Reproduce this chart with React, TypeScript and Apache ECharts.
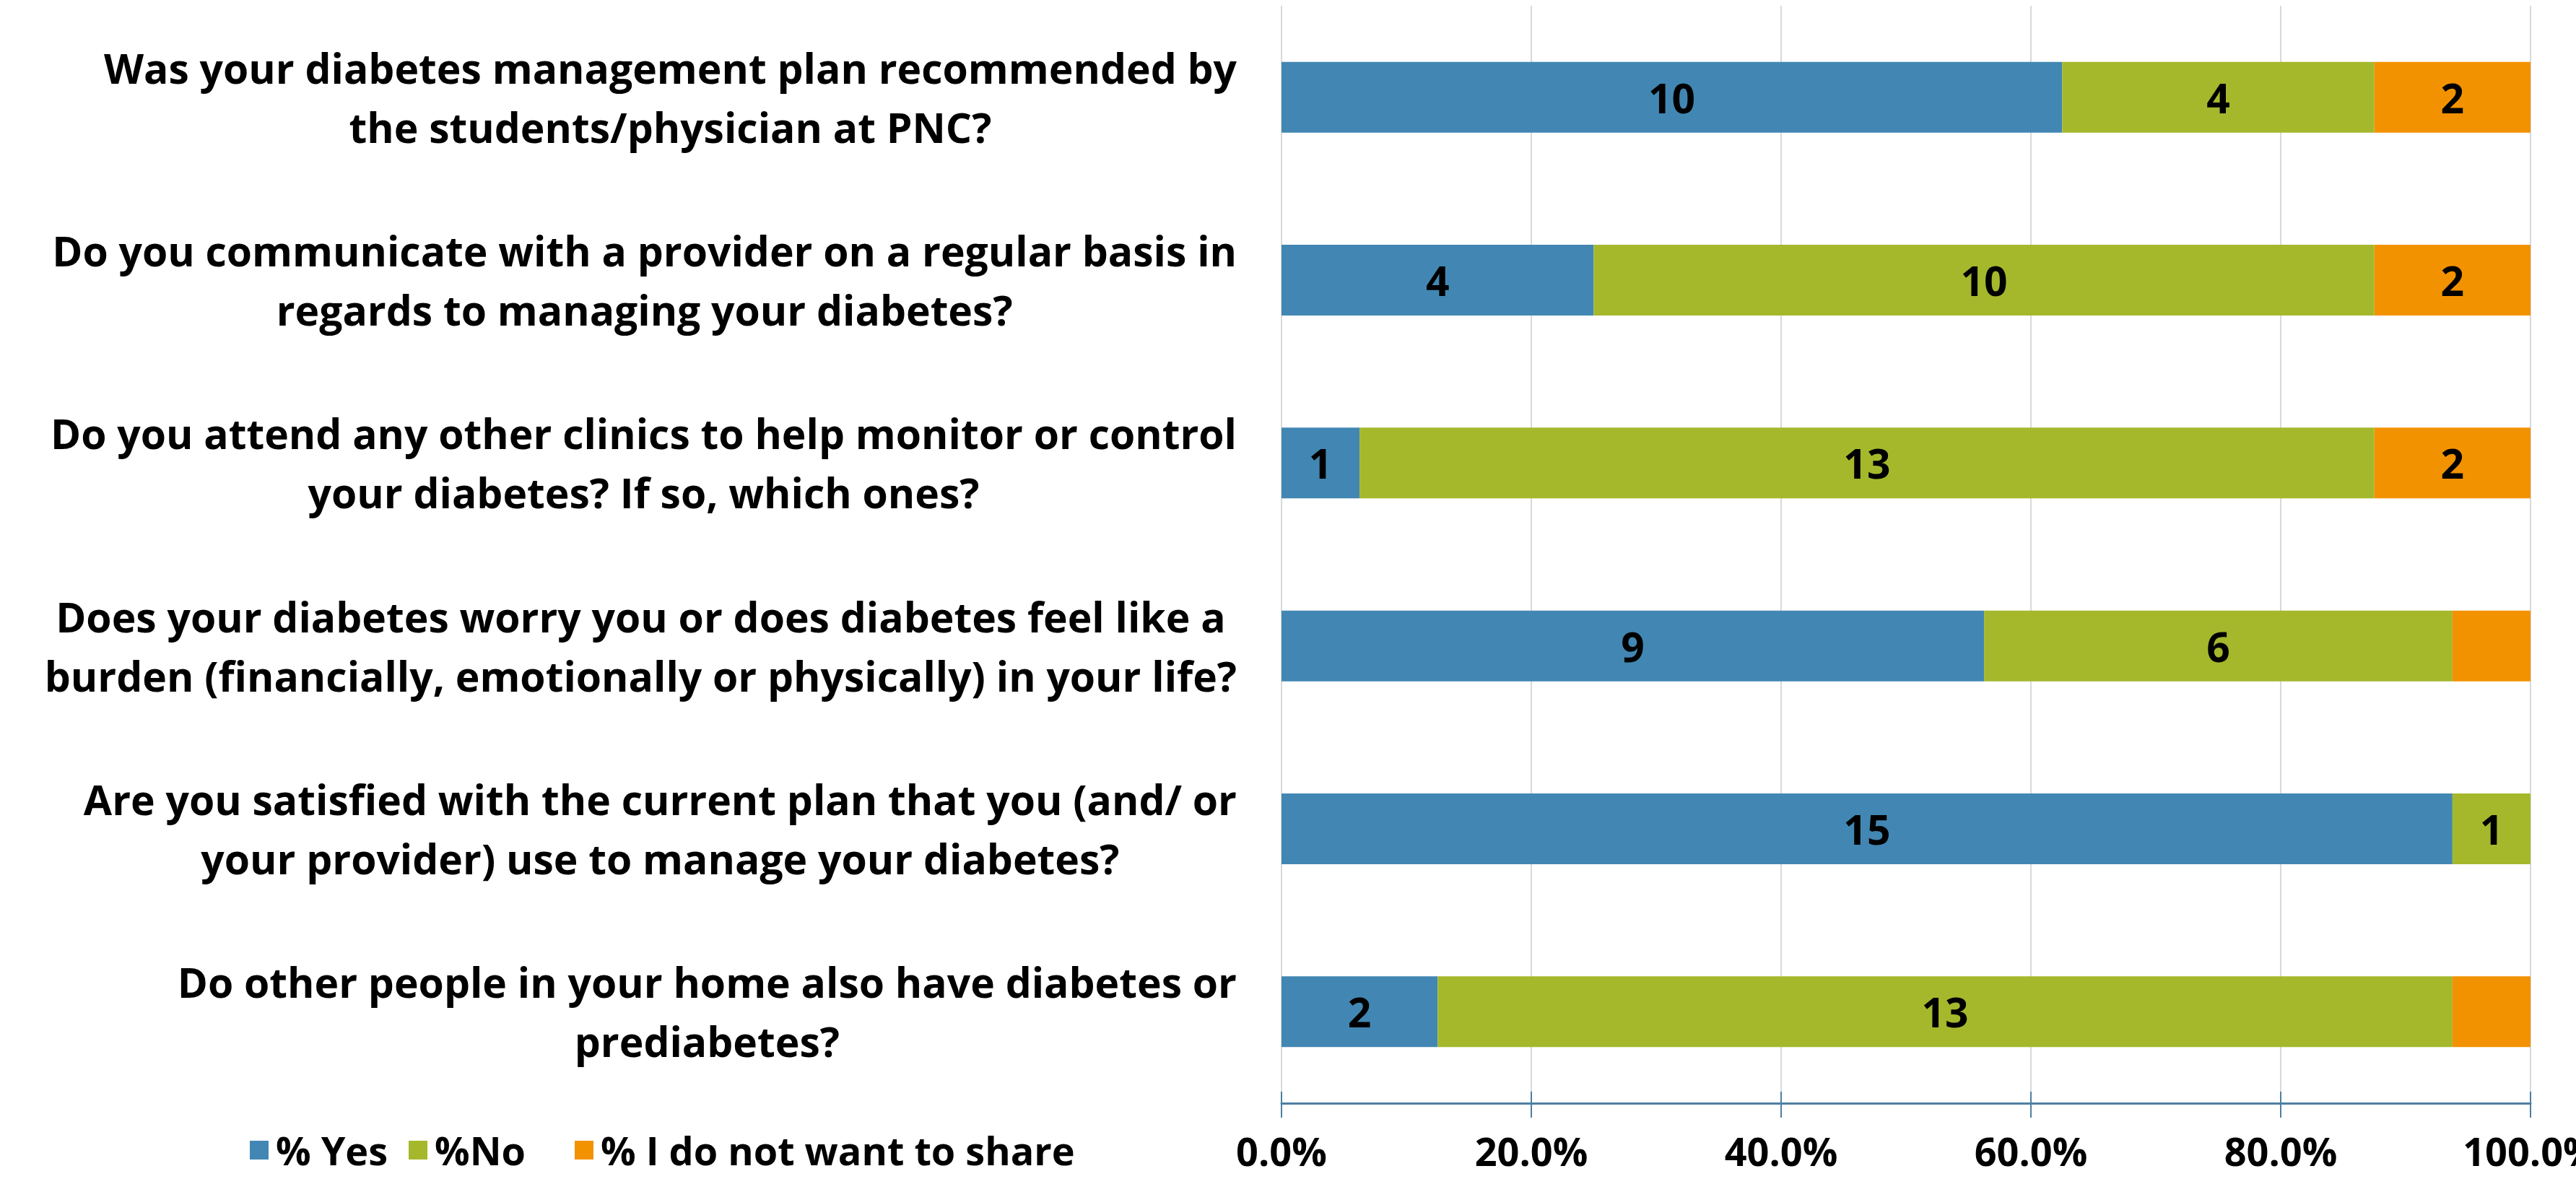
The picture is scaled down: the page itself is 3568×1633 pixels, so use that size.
import React, { useEffect, useRef } from "react";
import * as echarts from "echarts";

const questions = [
  "Was your diabetes management plan recommended by\nthe students/physician at PNC?",
  "Do you communicate with a provider on a regular basis in\nregards to managing your diabetes?",
  "Do you attend any other clinics to help monitor or control\nyour diabetes? If so, which ones?",
  "Does your diabetes worry you or does diabetes feel like a\nburden (financially, emotionally or physically) in your life?",
  "Are you satisfied with the current plan that you (and/ or\nyour provider) use to manage your diabetes?",
  "Do other people in your home also have diabetes or\nprediabetes?",
];
const seriesNames = ["% Yes", "%No", "% I do not want to share"];
const yesCounts = [10, 4, 1, 9, 15, 2];
const noCounts = [4, 10, 13, 6, 1, 13];
const notShareCounts = [2, 2, 2, 1, 0, 1];
const yesLabelShown = [true, true, true, true, true, true];
const noLabelShown = [true, true, true, true, true, true];
const notShareLabelShown = [true, true, true, false, false, false];
const xMin = 0;
const xMax = 1;
const xInterval = 0.2;

const colors = ["#4287B3", "#A5B82C", "#F39200"];
const FONT = "'Open Sans', 'Liberation Sans', sans-serif";
const FS = 57;
const FS_BOTTOM = 54;

export default function App() {
  const ref = useRef<HTMLDivElement>(null);
  useEffect(() => {
    if (!ref.current) return;
    const chart = echarts.init(ref.current, null, { renderer: "svg" });
    const totals = questions.map((_, i) => yesCounts[i] + noCounts[i] + notShareCounts[i]);
    const counts = [yesCounts, noCounts, notShareCounts];
    const shown = [yesLabelShown, noLabelShown, notShareLabelShown];
    const series = seriesNames.map((name, s) => ({
      name,
      type: "bar",
      stack: "total",
      barWidth: 98,
      xAxisIndex: 0,
      itemStyle: { color: colors[s] },
      label: {
        show: true,
        position: "inside",
        color: "#000",
        fontFamily: FONT,
        fontWeight: "bold",
        fontSize: FS,
        formatter: (p: any) => String(p.data.count),
      },
      data: counts[s].map((c, i) => ({
        value: c / totals[i],
        count: c,
        label: { show: shown[s][i] },
      })),
    }));
    const legendLefts = [346, 566, 796];
    chart.setOption({
      animation: false,
      backgroundColor: "#fff",
      grid: {
        left: 1775,
        right: 63,
        top: 8,
        bottom: 105,
        containLabel: false,
        outerBoundsMode: "none",
      },
      legend: seriesNames.map((name, s) => ({
        data: [name],
        left: legendLefts[s],
        top: 1566,
        padding: 0,
        itemWidth: 26,
        itemHeight: 26,
        icon: "rect",
        selectedMode: false,
        textStyle: {
          fontFamily: FONT,
          fontWeight: "bold",
          fontSize: FS_BOTTOM,
          lineHeight: 40,
          color: "#000",
          padding: [0, 0, 0, 5],
        },
      })),
      xAxis: [
        {
          type: "value",
          min: xMin,
          max: xMax,
          interval: xInterval,
          axisLine: { show: true, lineStyle: { color: "#4E7FA3", width: 3 } },
          axisTick: { show: true, length: 20, lineStyle: { color: "#4E7FA3", width: 2 } },
          splitLine: { show: true, lineStyle: { color: "#D9D9D9", width: 2 } },
          axisLabel: {
            margin: 46,
            color: "#000",
            fontFamily: FONT,
            fontWeight: "bold",
            fontSize: FS_BOTTOM,
            lineHeight: 40,
            formatter: (v: number) => (v * 100).toFixed(1) + "%",
          },
        },
        {
          type: "value",
          min: xMin,
          max: xMax,
          interval: xInterval,
          position: "bottom",
          axisLine: { show: false },
          axisTick: { show: true, inside: true, length: 16, lineStyle: { color: "#4E7FA3", width: 2 } },
          splitLine: { show: false },
          axisLabel: { show: false },
        },
      ],
      yAxis: {
        type: "category",
        inverse: true,
        data: questions,
        axisLine: { show: false },
        axisTick: { show: false },
        axisLabel: {
          margin: 62,
          align: "right",
          formatter: (v: string) => v.split("\n").map((l) => `{c|${l}}`).join("\n"),
          rich: {
            c: {
              align: "center",
              fontFamily: FONT,
              fontWeight: "bold",
              fontSize: FS,
              lineHeight: 82,
              color: "#000",
            },
          },
        },
      },
      series,
    });
    return () => chart.dispose();
  }, []);
  return (
    <div
      ref={ref}
      style={{ position: "fixed", left: 0, top: 0, width: 3568, height: 1633, background: "#fff" }}
    />
  );
}
